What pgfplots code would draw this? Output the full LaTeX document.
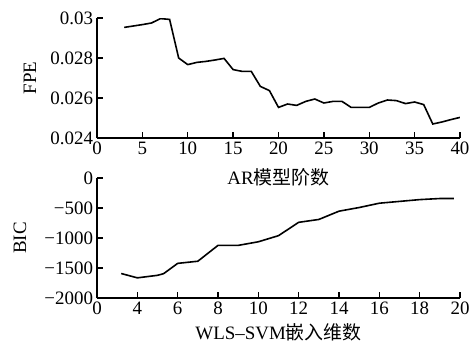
\documentclass[border=0pt]{standalone}
\usepackage{fontspec}
\setmainfont{Liberation Serif}
\newfontfamily\cjk{Noto Sans CJK SC}
\usepackage{pgfplots}
\pgfplotsset{compat=1.18}
\pgfplotstableread{
x y
3 0.02953
4 0.02960
5 0.02967
6 0.02975
7 0.02997
8 0.02993
9 0.02800
10 0.02767
11 0.02778
12 0.02783
13 0.02790
14 0.02798
15 0.02742
16 0.02733
17 0.02733
18 0.02658
19 0.02637
20 0.02553
21 0.02570
22 0.02563
23 0.02583
24 0.02595
25 0.02575
26 0.02583
27 0.02583
28 0.02553
29 0.02553
30 0.02553
31 0.02575
32 0.02590
33 0.02587
34 0.02572
35 0.02580
36 0.02567
37 0.02470
38 0.02480
39 0.02492
40 0.02503
}\fpe
\pgfplotstableread{
x y
3.2 -1592
4 -1664
5 -1622
5.3 -1595
6 -1423
7 -1387
8 -1123
9 -1123
10 -1063
11 -961
12 -739
13 -691
14 -553
15 -492
16 -420
17 -390
18 -360
19 -342
19.7 -342
}\bic
\pgfplotsset{
  every axis/.append style={
    scale only axis, width=363bp, height=120bp,
    axis x line*=bottom, axis y line*=left,
    tick align=inside, major tick length=6bp,
    scaled ticks=false,
    every tick label/.append style={font=\fontsize{19}{22}\selectfont},
    every axis label/.append style={font=\fontsize{19}{22}\selectfont},
    line width=1.3bp,
    tick style={line width=1.3bp, black},
  }
}
\begin{document}
\begin{tikzpicture}
\path[use as bounding box] (-97bp,-206bp) rectangle (378bp,138bp);
\begin{axis}[at={(0bp,0bp)}, anchor=south west,
  xmin=0, xmax=40, ymin=0.024, ymax=0.03,
  xtick={0,5,...,40}, xticklabels={0,5,10,15,20,25,30,35,40},
  ytick={0.024,0.026,0.028,0.03}, yticklabels={0.024,0.026,0.028,0.03},
  ylabel={FPE}, ylabel style={at={(axis description cs:-0.185,0.5)}, anchor=center},
  xlabel={AR{\cjk 模型阶数}}, xlabel style={at={(axis description cs:0.5,-0.33)}, anchor=center},
]
\addplot[black, line width=1.6bp, no marks] table {\fpe};
\end{axis}
\begin{axis}[at={(0bp,-160bp)}, anchor=south west,
  xmin=2, xmax=20, ymin=-2000, ymax=0,
  xtick={2,4,...,20}, xticklabels={0,4,6,8,10,12,14,16,18,20},
  ytick={-2000,-1500,-1000,-500,0}, yticklabels={−2000,−1500,−1000,−500,0},
  ylabel={BIC}, ylabel style={at={(axis description cs:-0.212,0.5)}, anchor=center},
  xlabel={WLS–SVM{\cjk 嵌入维数}}, xlabel style={at={(axis description cs:0.5,-0.29)}, anchor=center},
]
\addplot[black, line width=1.6bp, no marks] table {\bic};
\end{axis}
\end{tikzpicture}
\end{document}
